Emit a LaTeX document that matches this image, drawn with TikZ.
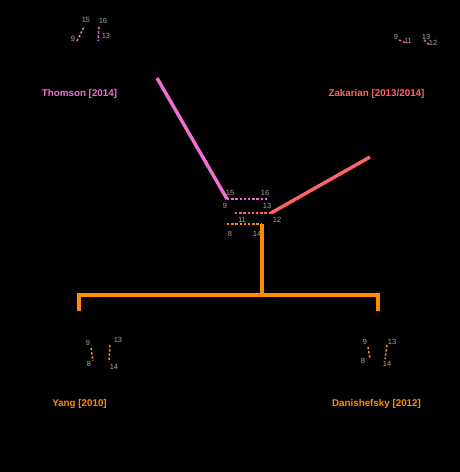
\documentclass[tikz,border=0pt]{standalone}
\usepackage{fontspec}
\setmainfont{Liberation Sans}
\begin{document}
\begin{tikzpicture}[x=1pt,y=-1pt,
  num/.style={text=numgray,font=\fontsize{7.5}{8}\selectfont,inner sep=0pt},
  lab/.style={font=\bfseries\fontsize{9.8}{11}\selectfont,inner sep=0pt},
  thick line/.style={line width=3.4pt},
  dashline/.style={line width=1.5pt,dash pattern=on 2.4pt off 1.8pt},
]
\definecolor{numgray}{HTML}{A8A8A8}
\definecolor{cpink}{HTML}{F06ED6}
\definecolor{cred}{HTML}{FF6464}
\definecolor{corange}{HTML}{FF8C00}
\fill[black] (0,0) rectangle (460,472);
\useasboundingbox (0,0) rectangle (460,472);

% ---- top-left fragment (Thomson)
\node[num] (tl15) at (86,20) {15};
\node[num] (tl16) at (103,21) {16};
\node[num] (tl9) at (73,39) {9};
\node[num] (tl13) at (106,36) {13};
\coordinate (tla) at (77,41);
\coordinate (tlb) at (84,27);
\coordinate (tlc) at (99,27);
\coordinate (tld) at (98,41);
\draw[dashline,cpink] (tla) -- (tlb);
\draw[dashline,cpink] (tlc) -- (tld);
\node[lab,text=cpink] (thomson) at (79.5,94) {Thomson [2014]};

% ---- top-right fragment (Zakarian)
\node[num] (tr9) at (396,37) {9};
\node[num] (tr11) at (408,41) {11};
\node[num] (tr13) at (426,37) {13};
\node[num] (tr12) at (433,43) {12};
\coordinate (tra) at (399,40);
\coordinate (trb) at (407,43.5);
\coordinate (trc) at (424,40);
\coordinate (trd) at (429,44.5);
\draw[dashline,cred] (tra) -- (trb);
\draw[dashline,cred] (trc) -- (trd);
\node[lab,text=cred] (zakarian) at (376.5,94) {Zakarian [2013/2014]};

% ---- bottom-left fragment (Yang)
\node[num] (bl9) at (88,343) {9};
\node[num] (bl8) at (89,364) {8};
\node[num] (bl13) at (118,340) {13};
\node[num] (bl14) at (114,367) {14};
\coordinate (bla) at (91,348);
\coordinate (blb) at (93,361);
\coordinate (blc) at (110,345);
\coordinate (bld) at (109,362);
\draw[dashline,corange] (bla) -- (blb);
\draw[dashline,corange] (blc) -- (bld);
\node[lab,text=corange] (yang) at (79.5,404) {Yang [2010]};

% ---- bottom-right fragment (Danishefsky)
\node[num] (br9) at (365,342) {9};
\node[num] (br8) at (363,361) {8};
\node[num] (br13) at (392,342) {13};
\node[num] (br14) at (387,364) {14};
\coordinate (bra) at (368,347);
\coordinate (brb) at (370,359);
\coordinate (brc) at (387,345);
\coordinate (brd) at (385,359);
\draw[dashline,corange] (bra) -- (brb);
\draw[dashline,corange] (brc) -- (brd);
\node[lab,text=corange] (danishefsky) at (376.5,404) {Danishefsky [2012]};

% ---- central fragment
\node[num] (c15) at (230,193) {15};
\node[num] (c16) at (265,193) {16};
\node[num] (c9) at (225,206) {9};
\node[num] (c13) at (267,206) {13};
\node[num] (c11) at (242,220) {11};
\node[num] (c12) at (277,220) {12};
\node[num] (c8) at (230,234) {8};
\node[num] (c14) at (257,234) {14};

\coordinate (p0) at (157,78);
\coordinate (p1) at (227,199);
\coordinate (p2) at (267,199);
\coordinate (r0) at (235,213);
\coordinate (r1) at (271,213);
\coordinate (r2) at (370,157);
\coordinate (o0) at (227,224);
\coordinate (o1) at (262,224);
\coordinate (o2) at (262,295);
\coordinate (bl) at (79,295);
\coordinate (br) at (378,295);
\coordinate (blend) at (79,311);
\coordinate (brend) at (378,311);

\draw[dashline,cpink] (p1) -- (p2);
\draw[thick line,cpink] (p0) -- (p1);
\draw[dashline,cred] (r0) -- (r1);
\draw[thick line,cred] (r1) -- (r2);
\draw[dashline,corange] (o0) -- (o1);
\draw[thick line,corange] (o1) -- (o2);
\draw[thick line,corange] (blend) -- (bl) -- (br) -- (brend);
\end{tikzpicture}
\end{document}
